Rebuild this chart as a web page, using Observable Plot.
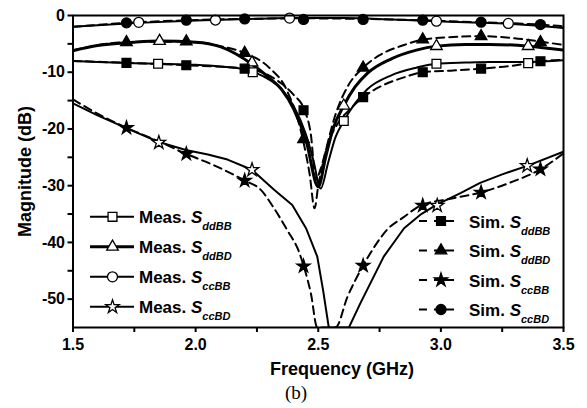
<!DOCTYPE html>
<html>
<head>
<meta charset="utf-8">
<script src="https://cdn.jsdelivr.net/npm/d3@7"></script>
<script src="https://cdn.jsdelivr.net/npm/@observablehq/plot@0.6"></script>
<style>
  body { margin: 0; background: #fff; }
  #chart { position: relative; width: 587px; height: 408px; }
</style>
</head>
<body>
<div id="chart"></div>
<script>
// ---------- data ----------
const xTicks = [1.5, 2.0, 2.5, 3.0, 3.5];
const xMinorTicks = [1.75, 2.25, 2.75, 3.25];
const yTicks = [0, -10, -20, -30, -40, -50];
const yMinorTicks = [-5, -15, -25, -35, -45];

// Meas. SddBB (solid, open square)
const measDdBB_x = [1.5,1.6,1.75,1.85,2.0,2.1,2.2,2.25,2.3,2.35,2.4,2.45,2.48,2.51,2.54,2.57,2.604,2.65,2.7,2.8,2.9,2.982,3.1,3.2,3.356,3.5];
const measDdBB_y = [-8.0,-8.2,-8.4,-8.5,-8.7,-9.0,-9.5,-10.2,-11.3,-13,-16,-21,-25.5,-30.5,-26,-21.5,-18.6,-15.5,-13,-10.5,-9.2,-8.5,-8.3,-8.2,-8.2,-7.9];
// Meas. SddBD (thick solid, open triangle)
const measDdBD_x = [1.5,1.6,1.75,1.853,2.0,2.1,2.23,2.3,2.35,2.4,2.45,2.5,2.53,2.56,2.604,2.65,2.7,2.8,2.9,2.982,3.1,3.2,3.356,3.5];
const measDdBD_y = [-6.2,-5.3,-4.7,-4.5,-4.7,-5.5,-8.6,-11,-13,-16.5,-22,-30.2,-25,-20,-15.9,-12.6,-10.2,-7.6,-6.1,-5.4,-5.1,-5.1,-5.4,-6.1];
// Meas. SccBB (solid, open circle)
const measCcBB_x = [1.5,1.6,1.768,2.0,2.2,2.383,2.6,2.8,2.982,3.1,3.275,3.4,3.5];
const measCcBB_y = [-2.0,-1.7,-1.3,-0.9,-0.65,-0.45,-0.45,-0.7,-1.0,-1.2,-1.45,-1.8,-2.2];
// Meas. SccBD (solid, open star)
const measCcBD_x = [1.5,1.6,1.72,1.85,1.96,2.05,2.13,2.23,2.32,2.394,2.45,2.496,2.52,2.543,2.625,2.672,2.767,2.85,2.92,2.985,3.08,3.16,3.25,3.352,3.5];
const measCcBD_y = [-15.5,-17.6,-19.9,-22.3,-23.7,-24.5,-25.4,-27.2,-30.7,-33.4,-37.5,-42.5,-48.5,-55,-55,-50.7,-42.5,-37.5,-35,-33.3,-31.3,-29.5,-28,-26.5,-24];

// Sim. SddBB (dashed, filled square)
const simDdBB_x = [1.5,1.718,1.962,2.2,2.3,2.35,2.4,2.444,2.47,2.49,2.51,2.54,2.58,2.63,2.683,2.75,2.85,2.926,3.05,3.164,3.3,3.406,3.5];
const simDdBB_y = [-8.0,-8.35,-8.77,-9.36,-10.6,-12,-14,-16.7,-21,-29,-27,-22.5,-19,-16.5,-14.4,-12.6,-10.9,-10,-9.7,-9.36,-8.8,-8.06,-7.8];
// Sim. SddBD (dashed, filled triangle)
const simDdBD_x = [1.5,1.718,1.962,2.1,2.2,2.3,2.37,2.437,2.465,2.485,2.5,2.53,2.57,2.62,2.683,2.75,2.85,2.926,3.05,3.164,3.3,3.406,3.5];
const simDdBD_y = [-6.1,-4.7,-4.6,-5.4,-6.6,-9.2,-13,-21.8,-28,-34,-30,-24,-17.5,-12.5,-9.2,-7,-5.2,-4.24,-3.8,-3.65,-4.0,-4.6,-5.2];
// Sim. SccBB (dashed, filled star)
const simCcBB_x = [1.5,1.6,1.718,1.85,1.962,2.08,2.2,2.265,2.32,2.373,2.42,2.441,2.47,2.496,2.57,2.62,2.683,2.73,2.78,2.85,2.917,3.04,3.162,3.28,3.406,3.5];
const simCcBB_y = [-14.8,-17.3,-19.8,-22.2,-24.4,-26.5,-29.1,-30.7,-34,-37.8,-41.5,-44.2,-49,-55,-55,-49.5,-44.1,-40.7,-37.8,-35.5,-33.5,-32.3,-31.2,-29.5,-27.1,-24.3];
// Sim. SccBD (dashed, filled circle)
const simCcBD_x = [1.5,1.718,1.962,2.2,2.444,2.68,2.926,3.164,3.406,3.5];
const simCcBD_y = [-2.0,-1.3,-0.85,-0.6,-0.5,-0.6,-0.85,-1.2,-1.6,-1.9];

// marker positions
const mSq_x = [1.847, 2.233, 2.604, 2.982, 3.356];
const mSq_y = [-8.5, -10, -18.6, -8.5, -8.4];
const mTri_x = [1.853, 2.23, 2.604, 2.982, 3.356];
const mTri_y = [-4.5, -8.3, -15.9, -5.4, -5.4];
const mCir_x = [1.768, 2.081, 2.383, 2.982, 3.275];
const mCir_y = [-1.2, -0.8, -0.45, -1.0, -1.4];
const mStar_x = [1.85, 2.23, 2.985, 3.352];
const mStar_y = [-22.4, -27.2, -33.5, -26.5];

const simMark_x = [1.718, 1.962, 2.2, 2.44, 2.683, 2.926, 3.164, 3.406];
const sSq_y = [-8.35, -8.77, -9.36, -16.7, -14.4, -10, -9.36, -8.06];
const sTri_y = [-4.7, -4.6, -6.6, -21.8, -9.2, -4.24, -3.65, -4.7];
const sStar_y = [-19.8, -24.4, -29.1, -44.2, -44.1, -33.5, -31.2, -27.1];
const sCir_y = [-1.3, -0.82, -0.6, -0.7, -0.7, -0.82, -1.18, -1.6];

const legendLeft = ["ddBB", "ddBD", "ccBB", "ccBD"];
const legendRight = ["ddBB", "ddBD", "ccBB", "ccBD"];

// ---------- build ----------
const pts = (xs, ys) => xs.map((x, i) => ({x, y: ys[i]}));
const DASH = "8,5";
const FONT = "Arial, 'Liberation Sans', sans-serif";

const lineOpts = (extra) => Object.assign({x: "x", y: "y", stroke: "black", strokeWidth: 2, curve: "monotone-x", clip: true}, extra);
const dotOpts = (symbol, fill, r) => ({x: "x", y: "y", symbol, fill, stroke: "black", strokeWidth: 1.3, r});

const R = {square: 5.0, triangle: 4.3, circle: 5, star: 4.2};

const svg = Plot.plot({
  width: 587,
  height: 408,
  marginLeft: 72.5,
  marginRight: 24,
  marginTop: 15,
  marginBottom: 81,
  style: {fontFamily: FONT, fontSize: "16px", fontWeight: "bold", background: "white", color: "black"},
  x: {domain: [1.5, 3.5]},
  y: {domain: [-55, 0]},
  marks: [
    Plot.axisX({ticks: xTicks, tickFormat: d3.format(".1f"), tickSize: 5, tickPadding: 6, strokeWidth: 2, label: null, fontSize: 16, fontWeight: "bold"}),
    Plot.axisX({ticks: xMinorTicks, tickFormat: () => "", tickSize: 5, strokeWidth: 2, label: null}),
    Plot.axisY({ticks: yTicks, tickFormat: d => `${d}`, tickSize: 5, tickPadding: 3, strokeWidth: 2, label: null, fontSize: 16, fontWeight: "bold"}),
    Plot.axisY({ticks: yMinorTicks, tickFormat: () => "", tickSize: 5, strokeWidth: 2, label: null}),

    Plot.line(pts(measDdBB_x, measDdBB_y), lineOpts({})),
    Plot.line(pts(measDdBD_x, measDdBD_y), lineOpts({strokeWidth: 3})),
    Plot.line(pts(measCcBB_x, measCcBB_y), lineOpts({})),
    Plot.line(pts(measCcBD_x, measCcBD_y), lineOpts({curve: "linear"})),
    Plot.line(pts(simDdBB_x, simDdBB_y), lineOpts({strokeDasharray: DASH})),
    Plot.line(pts(simDdBD_x, simDdBD_y), lineOpts({strokeDasharray: DASH})),
    Plot.line(pts(simCcBB_x, simCcBB_y), lineOpts({strokeDasharray: DASH})),
    Plot.line(pts(simCcBD_x, simCcBD_y), lineOpts({strokeDasharray: DASH})),

    Plot.dot(pts(mSq_x, mSq_y), dotOpts("square", "white", R.square)),
    Plot.dot(pts(mTri_x, mTri_y), dotOpts("triangle", "white", R.triangle)),
    Plot.dot(pts(mCir_x, mCir_y), dotOpts("circle", "white", R.circle)),
    Plot.dot(pts(mStar_x, mStar_y), dotOpts("star", "white", R.star)),
    Plot.dot(pts(simMark_x, sSq_y), dotOpts("square", "black", R.square)),
    Plot.dot(pts(simMark_x, sTri_y), dotOpts("triangle", "black", R.triangle)),
    Plot.dot(pts(simMark_x, sStar_y), dotOpts("star", "black", R.star)),
    Plot.dot(pts(simMark_x, sCir_y), dotOpts("circle", "black", R.circle)),

    Plot.frame({stroke: "black", strokeWidth: 2})
  ]
});

document.getElementById("chart").appendChild(svg);

// ---------- titles and legends ----------
const s = d3.select(svg);
s.append("text")
  .attr("x", 342).attr("y", 375)
  .attr("text-anchor", "middle")
  .style("font-family", FONT).style("font-size", "18px").style("font-weight", "bold")
  .text("Frequency (GHz)");
s.append("text")
  .attr("transform", "translate(31,171.5) rotate(-90)")
  .attr("text-anchor", "middle")
  .style("font-family", FONT).style("font-size", "18px").style("font-weight", "bold")
  .text("Magnitude (dB)");
s.append("text")
  .attr("x", 296).attr("y", 399)
  .attr("text-anchor", "middle")
  .style("font-family", "'Liberation Serif', 'Times New Roman', serif").style("font-size", "19px").style("font-weight", "normal")
  .text("(b)");

const symArea = (r) => Math.PI * r * r;
const SQ = [d3.symbolSquare, R.square];
const TRI = [d3.symbolTriangle, R.triangle];
const CIR = [d3.symbolCircle, R.circle];
const STAR = [d3.symbolStar, R.star];
const leftSymbols = [SQ, TRI, CIR, STAR];
const rightSymbols = [SQ, TRI, STAR, CIR];

function legendRow(g, opt) {
  const {yc, baseline, sym, fill, label, sub, xText, segments, sw} = opt;
  segments.forEach(([a, b]) => {
    g.append("line").attr("x1", a).attr("x2", b).attr("y1", yc).attr("y2", yc)
      .attr("stroke", "black").attr("stroke-width", sw);
  });
  g.append("path")
    .attr("d", d3.symbol(sym[0], symArea(sym[1]))())
    .attr("transform", `translate(${opt.mx},${yc})`)
    .attr("fill", fill).attr("stroke", "black").attr("stroke-width", 1.3);
  const t = g.append("text").attr("x", xText).attr("y", baseline)
    .attr("text-anchor", "start")
    .style("text-anchor", "start")
    .style("font-family", FONT).style("font-size", "17px").style("font-weight", "bold");
  t.append("tspan").text(label);
  t.append("tspan").style("font-style", "italic").text("S");
  t.append("tspan").style("font-style", "italic").style("font-size", "11px").attr("dy", 7).text(sub);
}

const lg = s.append("g").attr("text-anchor", "start");
const leftBase = [223.3, 253.3, 283.3, 313.3];
legendLeft.forEach((sub, i) => {
  legendRow(lg, {
    yc: leftBase[i] - 6.5, baseline: leftBase[i], sym: leftSymbols[i], fill: "white",
    label: "Meas. ", sub, xText: 139, mx: 112.5, segments: [[90, 134]], sw: i === 1 ? 3 : 2
  });
});
const rightBase = [227.5, 257, 286.5, 316];
legendRight.forEach((sub, i) => {
  legendRow(lg, {
    yc: rightBase[i] - 6.5, baseline: rightBase[i], sym: rightSymbols[i], fill: "black",
    label: "Sim. ", sub, xText: 469, mx: 441, segments: [[419, 427], [434, 454]], sw: 2
  });
});
</script>
</body>
</html>
